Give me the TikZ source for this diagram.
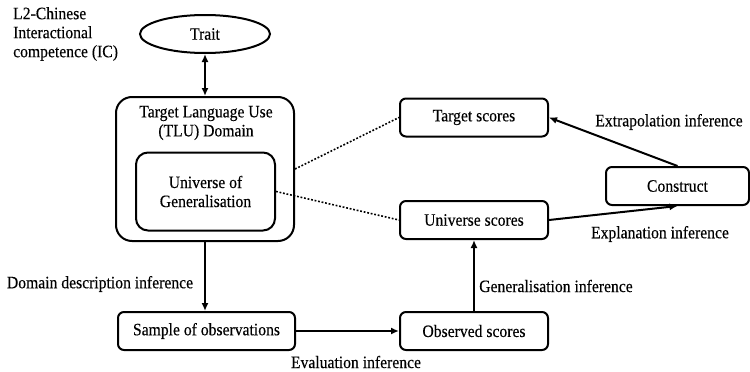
\documentclass[tikz,border=0pt]{standalone}
\usepackage{fontspec}
\setmainfont[FakeStretch=0.9, FakeBold=0.3]{Liberation Serif}
\usetikzlibrary{arrows.meta,shapes.geometric}
\begin{document}
\begin{tikzpicture}[x=1pt,y=-1pt,
  every node/.style={font=\fontsize{17.4}{19}\selectfont, inner sep=0pt},
  box/.style={draw, line width=2pt, rounded corners=6pt, minimum height=38pt},
  oval/.style={draw, ellipse, line width=2pt},
  txt/.style={align=center},
  arr/.style={line width=2pt, -{Latex[length=8pt,width=7pt]}},
  darr/.style={line width=2pt, {Latex[length=8pt,width=7pt]}-{Latex[length=8pt,width=7pt]}},
  dots/.style={line width=1.6pt, dash pattern=on 1.8pt off 1.8pt}]
\useasboundingbox (0,0) rectangle (750,372);

% trait and domains
\node[txt, anchor=west, align=left] (ic) at (13,34) {L2-Chinese\\Interactional\\competence (IC)};
\node[oval, minimum width=130pt, minimum height=38pt] (trait) at (205,34) {Trait};
\node[draw, line width=2pt, rounded corners=16pt, minimum width=178pt, minimum height=144pt] (tlu) at (205,169) {};
\node[txt] (tlutext) at (206,123) {Target Language Use\\(TLU) Domain};
\node[draw, line width=2pt, rounded corners=12pt, minimum width=139pt, minimum height=78pt, txt] (ug) at (205.5,191.5) {Universe of\\Generalisation};

% score boxes
\node[box, minimum width=177pt] (sample) at (206.5,331) {Sample of observations};
\node[box, minimum width=148pt] (observed) at (474,331) {Observed scores};
\node[box, minimum width=148pt] (universe) at (474,220) {Universe scores};
\node[box, minimum width=148pt] (target) at (474,117.5) {Target scores};
\node[box, minimum width=143pt] (construct) at (677.5,186) {Construct};

% inference labels
\node (ldomain) at (100,284) {Domain description inference};
\node (leval) at (356,362) {Evaluation inference};
\node (lgen) at (556,286) {Generalisation inference};
\node (lextra) at (669,122) {Extrapolation inference};
\node (lexpl) at (660,234) {Explanation inference};

% connectors
\draw[darr] (trait.south) -- (tlu.north -| trait.south);
\draw[arr] (tlu.south) -- (tlu.south |- sample.north);
\draw[arr] (sample.east) -- (observed.west);
\draw[arr] (observed.north) -- (universe.south);
\draw[arr] (universe.east) -- (construct.south);
\draw[arr] (construct.north) -- (target.east);
\draw[dots] (tlu.east) -- (target.west);
\draw[dots] (ug.east) -- (universe.west);
\end{tikzpicture}
\end{document}
